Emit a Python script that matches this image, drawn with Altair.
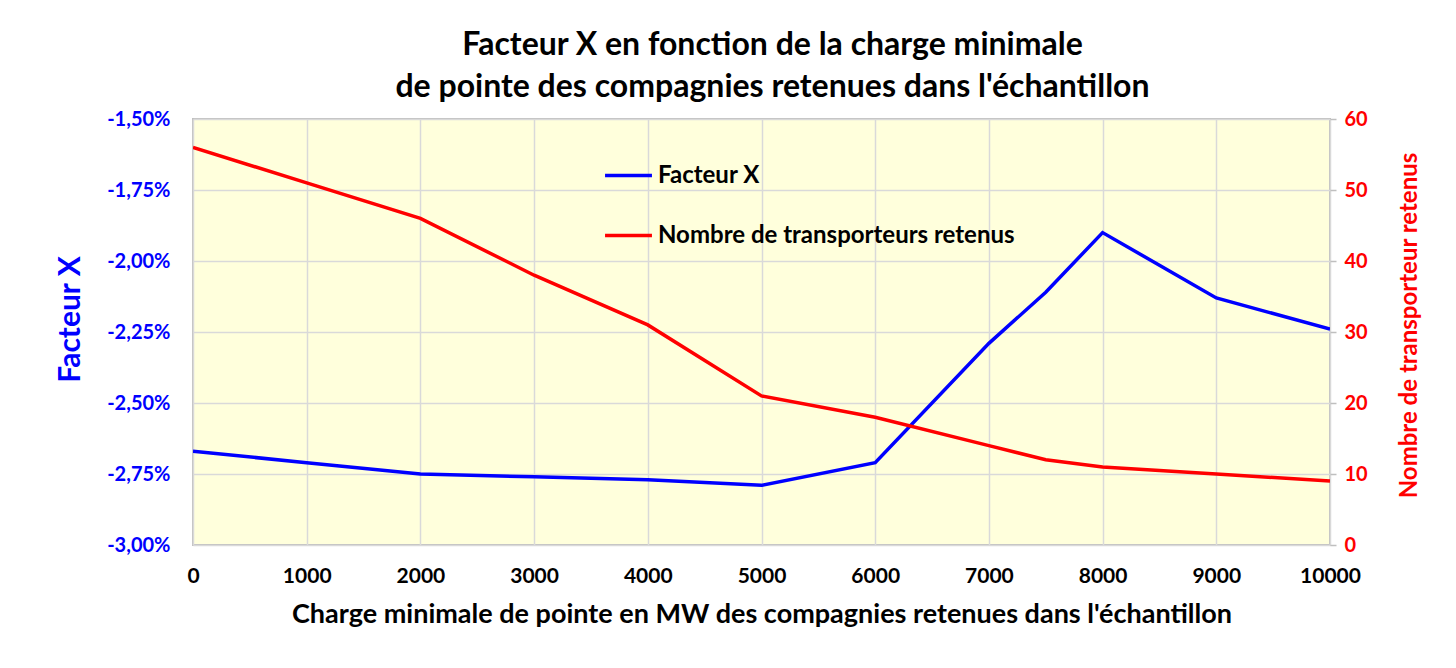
import altair as alt
import pandas as pd

charge = [0, 1000, 2000, 3000, 4000, 5000, 6000, 7000, 7500, 8000, 9000, 10000]
facteur_x = [-2.67, -2.71, -2.75, -2.76, -2.77, -2.79, -2.71, -2.29, -2.11, -1.90, -2.13, -2.24]
nombre = [56, 51, 46, 38, 31, 21, 18, 14, 12, 11, 10, 9]

x_ticks = [0, 1000, 2000, 3000, 4000, 5000, 6000, 7000, 8000, 9000, 10000]
left_ticks = [-3.0, -2.75, -2.5, -2.25, -2.0, -1.75, -1.5]
right_ticks = [0, 10, 20, 30, 40, 50, 60]

s1 = "Facteur X"
s2 = "Nombre de transporteurs retenus"

df = pd.DataFrame({"charge": charge, "fx": facteur_x, "n": nombre})
df["s1"] = s1
df["s2"] = s2

FONT = "Lato"
BLUE = "#0000FF"
RED = "#FF0000"

color_scale = alt.Scale(domain=[s1, s2], range=[BLUE, RED])

xenc = alt.X(
    "charge:Q",
    scale=alt.Scale(domain=[0, 10000], nice=False),
    axis=alt.Axis(
        values=x_ticks,
        labelExpr="toString(datum.value)",
        title="Charge minimale de pointe en MW des compagnies retenues dans l'échantillon",
        titleFontSize=27,
        titleFont=FONT,
        titleFontWeight="bold",
        titleColor="black",
        titlePadding=15,
        labelFontSize=21,
        labelFont=FONT,
        labelFontWeight="bold",
        labelColor="black",
        labelPadding=20,
        ticks=False,
        domain=False,
        grid=True,
        gridColor="#d9d9d9",
        gridWidth=1.5,
        labelFlush=False,
    ),
)

left = alt.Chart(df).mark_line(strokeWidth=3.5, clip=True).encode(
    x=xenc,
    y=alt.Y(
        "fx:Q",
        scale=alt.Scale(domain=[-3.0, -1.5], nice=False, zero=False),
        axis=alt.Axis(
            values=left_ticks,
            labelExpr="'-' + replace(format(abs(datum.value), '.2f'), '.', ',') + '%'",
            title="Facteur X",
            titleFontSize=30,
            titleFont=FONT,
            titleFontWeight="bold",
            titleColor=BLUE,
            titlePadding=21,
            titleY=200,
            labelFontSize=20,
            labelFont=FONT,
            labelFontWeight="bold",
            labelColor=BLUE,
            labelPadding=23,
            ticks=False,
            domain=False,
            grid=True,
            gridColor="#d9d9d9",
            gridWidth=1.5,
            orient="left",
        ),
    ),
    color=alt.Color(
        "s1:N",
        scale=color_scale,
        legend=alt.Legend(
            title=None,
            orient="none",
            legendX=410,
            legendY=31,
            symbolType="stroke",
            symbolStrokeWidth=3.5,
            symbolSize=2200,
            labelFontSize=24,
            labelFont=FONT,
            labelFontWeight="bold",
            labelColor="black",
            rowPadding=22,
            labelOffset=4,
            labelLimit=600,
        ),
    ),
)

right = alt.Chart(df).mark_line(strokeWidth=3.5, clip=True).encode(
    x=xenc,
    y=alt.Y(
        "n:Q",
        scale=alt.Scale(domain=[0, 60], nice=False),
        axis=alt.Axis(
            values=right_ticks,
            title="Nombre de transporteur retenus",
            titleFontSize=24,
            titleFont=FONT,
            titleFontWeight="bold",
            titleColor=RED,
            titleAngle=270,
            titleBaseline="top",
            titlePadding=30,
            titleY=206,
            labelFontSize=20,
            labelFont=FONT,
            labelFontWeight="bold",
            labelColor=RED,
            labelPadding=8,
            ticks=True,
            tickSize=6,
            tickColor="#bfbfbf",
            tickWidth=1.5,
            domain=False,
            grid=False,
            orient="right",
        ),
    ),
    color=alt.Color("s2:N", scale=color_scale),
)

chart = (
    alt.layer(left, right)
    .resolve_scale(y="independent")
    .properties(
        width=1137,
        height=426,
        padding={"left": 185, "top": 111, "right": 118, "bottom": 115},
        autosize=alt.AutoSizeParams(type="none"),
        background="white",
        title=alt.TitleParams(
            text=["Facteur X en fonction de la charge minimale",
                  "de pointe des compagnies retenues dans l'échantillon"],
            font=FONT,
            fontSize=32,
            fontWeight="bold",
            color="black",
            anchor="middle",
            lineHeight=42,
            offset=5,
            dx=11,
        ),
    )
    .configure_view(fill="#FFFFDC", stroke="#bfbfbf", strokeWidth=2)
)

chart.save("out.html", embed_options={"renderer": "svg", "actions": False})
